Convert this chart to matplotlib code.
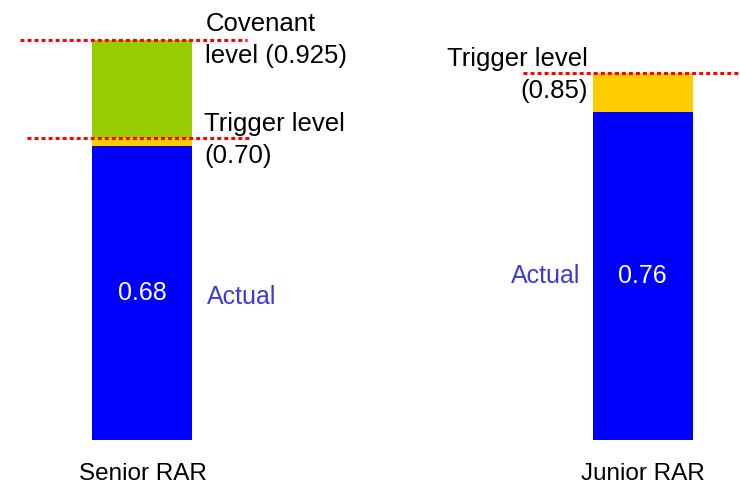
"""Senior and junior RAR against trigger and covenant levels."""

import matplotlib.pyplot as plt

categories = ["Senior RAR", "Junior RAR"]
actual = [0.68, 0.76]
trigger = [0.70, 0.85]
covenant = [0.925, None]

BLUE = "#0000ff"
YELLOW = "#ffcc00"
GREEN = "#99cc00"
RED = "#ff0000"
LABEL_BLUE = "#3c3cd2"

plt.rcParams["font.family"] = ["Liberation Sans", "DejaVu Sans"]

fig = plt.figure(figsize=(7.4, 4.86), dpi=100)
# axes fill the width; the baseline sits 46 px above the bottom edge
ax = fig.add_axes([0, 46 / 486, 1, 440 / 486])
ax.set_xlim(-0.285, 1.195)
ax.set_ylim(0, 440 / 432)
ax.axis("off")

width = 0.2
x = list(range(len(categories)))

for i in x:
    ax.bar(i, actual[i], width=width, color=BLUE, linewidth=0)
    ax.bar(i, trigger[i] - actual[i], bottom=actual[i], width=width,
           color=YELLOW, linewidth=0)
    if covenant[i] is not None:
        ax.bar(i, covenant[i] - trigger[i], bottom=trigger[i], width=width,
               color=GREEN, linewidth=0)

dotted = dict(color=RED, linewidth=2.2, linestyle=(0, (1.3, 1.0)),
              dash_capstyle="butt", clip_on=False)
ax.plot([-0.245, 0.209], [covenant[0]] * 2, **dotted)
ax.plot([-0.231, 0.215], [trigger[0]] * 2, **dotted)
ax.plot([0.761, 1.2], [trigger[1]] * 2, **dotted)

fs = 18.5
right0 = x[0] + width / 2
left1 = x[1] - width / 2


def level_text(text, xy, dx, dy, ha="left"):
    ax.annotate(text, xy=xy, xytext=(dx, dy), textcoords="offset pixels",
                ha=ha, va="baseline", fontsize=fs, color="black",
                annotation_clip=False)


level_text("Covenant", (right0, covenant[0]), 13, 9)
level_text("level (0.925)", (right0, covenant[0]), 13, -23)
level_text("Trigger level", (right0, trigger[0]), 12, 7)
level_text("(0.70)", (right0, trigger[0]), 12, -25)
level_text("Trigger level", (left1, trigger[1]), -5, 7, ha="right")
level_text("(0.85)", (left1, trigger[1]), -5, -25, ha="right")

# value inside the blue bar, "Actual" beside it
ax.text(x[0], 0.325, f"{actual[0]:.2f}", ha="center", va="baseline",
        fontsize=18, color="white")
ax.text(right0 + 0.028, 0.315, "Actual", ha="left", va="baseline",
        fontsize=18, color=LABEL_BLUE)
ax.text(x[1], 0.363, f"{actual[1]:.2f}", ha="center", va="baseline",
        fontsize=18, color="white")
ax.text(left1 - 0.024, 0.363, "Actual", ha="right", va="baseline",
        fontsize=18, color=LABEL_BLUE)

for i, name in zip(x, categories):
    ax.text(i + 0.0, -0.093, name, ha="center", va="baseline",
            fontsize=17.5, color="black", clip_on=False)

fig.savefig("out.png", dpi=100)
